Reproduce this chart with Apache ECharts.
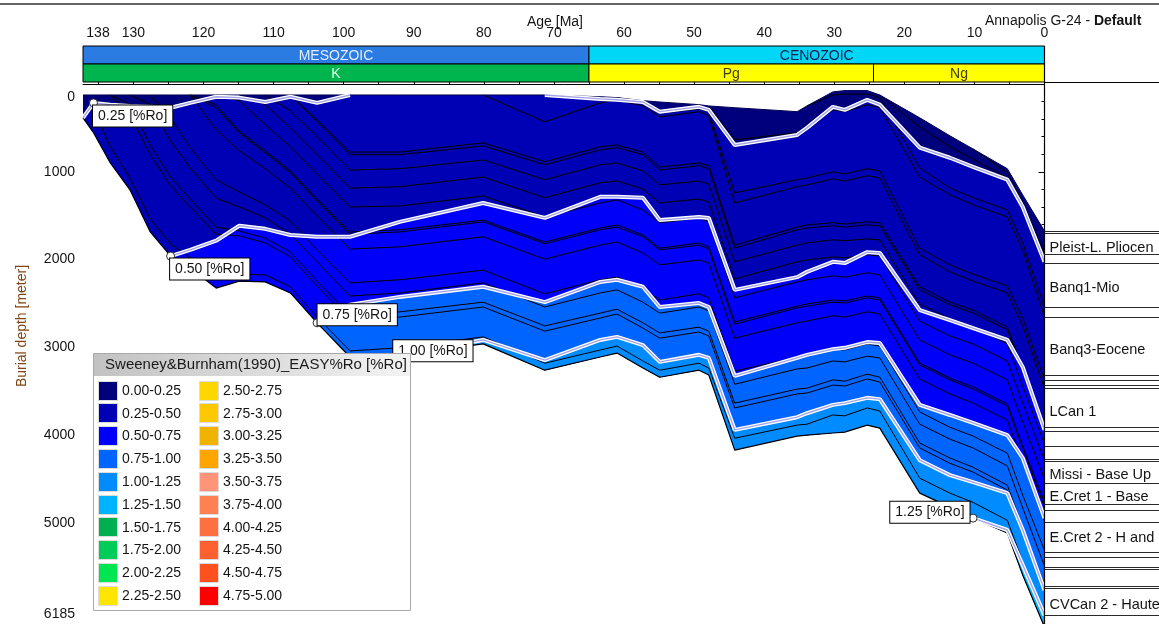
<!DOCTYPE html>
<html>
<head>
<meta charset="utf-8">
<script src="https://cdn.jsdelivr.net/npm/echarts@6/dist/echarts.min.js"></script>
<style>
html,body{margin:0;padding:0;background:#fff;}
#chart{width:1159px;height:624px;}
</style>
</head>
<body>
<div id="chart"></div>
<script>
// ---- Burial history, Annapolis G-24 (ages in Ma, depths in m) ----
const N = null;
const AGE_MAX = 137.2;
const AGE_MAX_LABEL = '138';
const DEPTH_MAX = 6185;

const AGES = [137.2, 135.7, 133.3, 130.5, 127.6, 124.7, 121.9, 118.2, 114.9, 111.2, 107.6, 103.8, 99.1, 92.0,
  80.1, 71.3, 63.4, 61.0, 57.3, 54.9, 49.3, 47.9, 44.2, 35.3, 33.9, 30.2, 28.5, 25.3, 23.5, 17.8, 13.5, 10.2, 5.3, 3.1, 0];

// sediment surface (sea floor) and base of the section
const TOP  = [125,125,125,125,125,125,125,125,125,125,125,125,125,125,125,125,145,155,190,205,235,250,270,315,250,90,75,75,125,385,590,740,965,1265,1675];
const BASE = [385,555,900,1205,1685,1960,2095,2325,2245,2255,2380,2720,3110,3085,2960,3260,3110,3065,3235,3340,3260,3315,4170,4010,4000,3975,3965,3885,3920,4660,4820,4945,5115,5595,6185];

// vitrinite reflectance isolines
const RO_025 = [385,215,235,250,260,270,215,145,155,205,145,215,125,125,125,125,170,180,205,315,260,295,695,580,500,260,295,180,235,725,840,945,1090,1400,2025];
const RO_050 = [N,N,N,N,N,1960,1890,1785,1615,1650,1720,1740,1740,1570,1355,1525,1285,1285,1295,1550,1515,1525,2345,2200,2140,2025,2040,1915,1925,2575,2690,2780,2915,3225,3940];
const RO_075 = [N,N,N,N,N,N,N,N,N,N,N,2720,2515,2425,2310,2485,2255,2230,2310,2540,2495,2540,3325,3120,3085,3020,3005,2940,2950,3655,3770,3860,4000,4260,4945];
const RO_100 = [N,N,N,N,N,N,N,N,N,N,N,N,N,3085,2915,3145,2915,2880,2975,3165,3085,3120,3940,3795,3750,3655,3635,3575,3590,4285,4455,4535,4660,5080,5765];
const RO_125 = [N,N,N,N,N,N,N,N,N,N,N,N,N,N,N,N,N,N,N,N,N,N,N,N,N,N,N,N,N,N,N,4945,5080,5480,6050];

// stratigraphic horizons (null before deposition)
const H_K615 = [N,285,715,1070,1535,1820,1980,2220,2165,2175,2310,2655,3040,3005,2880,3180,3030,2985,3155,3260,3180,3235,4035,3885,3875,3770,3780,3690,3725,4490,4660,4765,4970,5445,6050];
const H_K590 = [N,N,125,350,805,1160,1400,1710,1730,1810,1970,2300,2690,2655,2540,2815,2665,2620,2780,2895,2825,2870,3690,3530,3520,3430,3440,3360,3395,4145,4320,4420,4625,5105,5765];
const H_K587 = [N,N,125,235,695,1060,1310,1630,1675,1755,1915,2245,2630,2595,2485,2755,2610,2565,2720,2835,2770,2815,3635,3475,3465,3370,3385,3305,3340,4090,4260,4365,4570,5050,5710];
const H_K568 = [N,N,N,125,235,650,955,1300,1400,1525,1710,2025,2415,2380,2265,2540,2380,2345,2485,2610,2540,2585,3420,3245,3235,3155,3165,3100,3120,3875,4045,4145,4350,4830,5490];
const H_K555 = [N,N,N,N,125,385,725,1090,1230,1375,1560,1890,2265,2230,2120,2390,2230,2200,2335,2460,2390,2435,3270,3110,3085,3020,3030,2960,2985,3735,3910,4010,4205,4685,5310];
const H_K522 = [N,N,N,N,N,N,125,520,760,965,1185,1500,1880,1855,1740,1995,1835,1800,1925,2060,2005,2040,2895,2720,2700,2640,2655,2595,2620,3360,3530,3635,3830,4305,4980];
const H_K510 = [N,N,N,N,N,N,125,270,555,785,1010,1330,1710,1685,1570,1820,1660,1630,1740,1890,1835,1880,2735,2550,2530,2485,2495,2435,2460,3200,3370,3475,3670,4145,4820];
const H_K504 = [N,N,N,N,N,N,125,235,535,760,990,1310,1685,1660,1550,1800,1640,1605,1720,1870,1810,1855,2710,2530,2505,2460,2470,2415,2435,3180,3350,3450,3645,4125,4765];
const H_K483 = [N,N,N,N,N,N,N,125,190,465,715,1025,1400,1390,1275,1515,1355,1320,1435,1580,1525,1570,2435,2255,2230,2185,2200,2150,2175,2915,3085,3180,3370,3850,4500];
const H_K460 = [N,N,N,N,N,N,N,N,125,235,500,805,1185,1170,1060,1295,1125,1105,1195,1355,1310,1345,2220,2025,2005,1970,1980,1945,1960,2700,2870,2960,3155,3635,4285];
const H_K446 = [N,N,N,N,N,N,N,N,N,125,305,600,980,965,865,1090,920,900,990,1150,1105,1140,2025,1835,1810,1775,1785,1765,1775,2505,2675,2770,2960,3440,4100];
const H_K431 = [N,N,N,N,N,N,N,N,N,N,125,430,805,805,705,920,750,725,805,980,930,965,1870,1660,1640,1615,1630,1605,1615,2345,2515,2610,2800,3280,3940];
const H_K427 = [N,N,N,N,N,N,N,N,N,N,125,410,775,775,670,885,715,695,775,945,900,930,1835,1630,1605,1580,1595,1570,1580,2310,2485,2575,2770,3245,3910];
const H_K388 = [N,N,N,N,N,N,N,N,N,N,N,N,N,N,125,430,215,180,250,375,315,360,1355,1170,1150,1080,1105,1045,1070,1945,2140,2245,2380,2755,3465];
const H_C380 = [N,N,N,N,N,N,N,N,N,N,N,N,N,N,N,N,N,155,215,330,285,315,1240,1090,1070,1000,1025,965,990,1870,2060,2165,2300,2665,3370];
const H_C317 = [N,N,N,N,N,N,N,N,N,N,N,N,N,N,N,N,N,N,N,N,N,250,635,555,475,295,315,235,270,1060,1265,1375,1515,1890,2655];
const H_C307 = [N,N,N,N,N,N,N,N,N,N,N,N,N,N,N,N,N,N,N,N,N,N,N,N,250,125,115,115,155,955,1185,1295,1435,1810,2540];
const H_C263 = [N,N,N,N,N,N,N,N,N,N,N,N,N,N,N,N,N,N,N,N,N,N,N,N,N,N,N,N,125,490,715,855,1070,1410,2040];
const H_C254 = [N,N,N,N,N,N,N,N,N,N,N,N,N,N,N,N,N,N,N,N,N,N,N,N,N,N,N,N,N,N,N,740,1010,1345,1935];
const HORIZONS = [H_K615,H_K590,H_K587,H_K568,H_K555,H_K522,H_K510,H_K504,H_K483,H_K460,H_K446,H_K431,H_K427,H_K388,H_C380,H_C317,H_C307,H_C263,H_C254];

// EASY%Ro classes
const RO_CLASSES = ['0.00-0.25','0.25-0.50','0.50-0.75','0.75-1.00','1.00-1.25','1.25-1.50','1.50-1.75','1.75-2.00','2.00-2.25','2.25-2.50',
  '2.50-2.75','2.75-3.00','3.00-3.25','3.25-3.50','3.50-3.75','3.75-4.00','4.00-4.25','4.25-4.50','4.50-4.75','4.75-5.00'];
const RO_COLORS = ['#00007c','#0000b4','#0000fa','#0064ff','#008cff','#00b4ff','#00b050','#00cc5a','#00e650','#ffe600',
  '#ffd700','#ffc800','#f0b400','#ffa500','#ff9478','#ff8050','#ff7040','#ff6030','#ff5020','#ff0000'];
const ISO_LINES = [RO_025, RO_050, RO_075, RO_100, RO_125];
const ISO_LABELS = ['0.25 [%Ro]','0.50 [%Ro]','0.75 [%Ro]','1.00 [%Ro]','1.25 [%Ro]'];
const ISO_LABEL_NODES = [1, 5, 11, 13, 31];

// time scale bars
const ERAS = [['MESOZOIC', AGE_MAX, 65.0], ['CENOZOIC', 65.0, 0]];
const PERIODS = [['K', AGE_MAX, 65.0], ['Pg', 65.0, 24.4], ['Ng', 24.4, 0]];

// present-day formation column
const COLUMN_LINES = [1675,1695,1935,2040,2540,2655,3315,3370,3430,3465,3910,3955,4125,4275,4295,4545,4785,4855,4990,5335,5390,5505,5525,5720,5745,6050];
const COLUMN_NAMES = ['Pleist-L. Pliocen','Banq1-Mio','Banq3-Eocene','LCan 1','Missi - Base Up','E.Cret 1 - Base','E.Cret 2 - H and','CVCan 2 - Haute'];
const COLUMN_NAME_DEPTHS = [1865, 2325, 3030, 3735, 4455, 4705, 5175, 5935];

// axis ticks and labels
const X_LABEL_VALUES = [0,10,20,30,40,50,60,70,80,90,100,110,120,130,AGE_MAX];
const X_TICKS = [0,5,10,15,20,25,30,35,40,45,50,55,60,65,70,75,80,85,90,95,100,105,110,115,120,125,130,135];
const Y_LABEL_VALUES = [0,1000,2000,3000,4000,5000,DEPTH_MAX];

// ---------------------------------------------------------------
const FONT = '"Liberation Sans", Arial, sans-serif';
const TXT = '#141414';

function pairs(arr) {
  const out = [];
  for (let i = 0; i < AGES.length; i++) if (arr[i] != null) out.push([AGES[i], arr[i]]);
  return out;
}
// an isoline is only drawn where it lies below the sea floor
function isoPairs(arr) {
  const below = i => i >= 0 && i < AGES.length && arr[i] != null && arr[i] > TOP[i];
  const out = [];
  for (let i = 0; i < AGES.length; i++) {
    if (arr[i] == null) continue;
    out.push(below(i) || below(i - 1) || below(i + 1) ? [AGES[i], arr[i]] : [AGES[i], '-']);
  }
  return out;
}
function zonePoints(upper, api) {
  const up = [], low = [];
  for (let i = 0; i < AGES.length; i++) {
    if (upper[i] == null) continue;
    up.push(api.coord([AGES[i], upper[i]]));
    low.push(api.coord([AGES[i], BASE[i]]));
  }
  return up.concat(low.reverse());
}

const series = [];

// maturity zone fills, painted shallow to deep
[TOP].concat(ISO_LINES).forEach((upper, k) => {
  series.push({
    type: 'custom', silent: true, z: 1, data: [[0, 0]],
    renderItem: (p, api) => ({ type: 'polygon', shape: { points: zonePoints(upper, api) }, style: { fill: RO_COLORS[k] } })
  });
});

// horizons
HORIZONS.forEach(h => {
  series.push({ type: 'line', silent: true, z: 2, symbol: 'none', data: pairs(h),
    lineStyle: { color: '#000', width: 1 } });
});
// section outline
series.push({ type: 'line', silent: true, z: 2, symbol: 'none', data: pairs(BASE), lineStyle: { color: '#000', width: 1.2 } });
series.push({ type: 'line', silent: true, z: 2, symbol: 'none', data: pairs(TOP), lineStyle: { color: '#000050', width: 1 } });

// isolines: white casing with a pale centre
ISO_LINES.forEach(iso => {
  const d = isoPairs(iso);
  series.push({ type: 'line', silent: true, z: 3, symbol: 'none', connectNulls: false, data: d, lineStyle: { color: '#ffffff', width: 4 } });
  series.push({ type: 'line', silent: true, z: 3, symbol: 'none', connectNulls: false, data: d, lineStyle: { color: '#a4a4ec', width: 1.4 } });
});

// isoline tags
const TAG_LAYOUT = [
  { position: [4, 7], align: 'left', verticalAlign: 'top' },
  { position: [4, 7], align: 'left', verticalAlign: 'top' },
  { position: [5, 7], align: 'left', verticalAlign: 'bottom' },
  { position: [-2, 11], align: 'left', verticalAlign: 'bottom' },
  { position: [1, 9], align: 'right', verticalAlign: 'bottom' }
];
series.push({
  type: 'scatter', silent: true, z: 5, symbol: 'circle', symbolSize: 8,
  itemStyle: { color: '#ffffff', borderColor: '#303030', borderWidth: 1, opacity: 1 },
  data: ISO_LINES.map((iso, k) => ({
    value: [AGES[ISO_LABEL_NODES[k]], iso[ISO_LABEL_NODES[k]]],
    label: Object.assign({
      show: true, formatter: ISO_LABELS[k], fontSize: 14, fontFamily: FONT, color: TXT, opacity: 1,
      backgroundColor: '#ffffff', borderColor: '#000', borderWidth: 1, padding: [4, 5, 3, 5]
    }, TAG_LAYOUT[k])
  }))
});

// era / period bars above the plot
const BAR_ROWS = { eraTop: 46, eraBot: 64, perTop: 64, perBot: 82 };
const BAR_STYLE = {
  MESOZOIC: { fill: '#2a7ce2', text: '#e4ecff' }, CENOZOIC: { fill: '#00d6f6', text: '#1c1c48' },
  K: { fill: '#00b44e', text: '#e6ffe6' }, Pg: { fill: '#ffff00', text: '#404000' }, Ng: { fill: '#ffff00', text: '#404000' }
};
function barItem(api, item, y0, y1) {
  const xa = api.coord([item[1], 0])[0], xb = api.coord([item[2], 0])[0];
  const st = BAR_STYLE[item[0]];
  return [
    { type: 'rect', shape: { x: xa, y: y0, width: xb - xa, height: y1 - y0 }, style: { fill: st.fill, stroke: '#000', lineWidth: 1 } },
    { type: 'text', style: { text: item[0], x: (xa + xb) / 2, y: (y0 + y1) / 2 + 1, align: 'center', verticalAlign: 'middle',
      fill: st.text, font: '14px ' + FONT } }
  ];
}
series.push({
  type: 'custom', silent: true, z: 6, clip: false, data: [[0, 0]],
  renderItem: (p, api) => {
    let children = [];
    ERAS.forEach(e => { children = children.concat(barItem(api, e, BAR_ROWS.eraTop, BAR_ROWS.eraBot)); });
    PERIODS.forEach(e => { children = children.concat(barItem(api, e, BAR_ROWS.perTop, BAR_ROWS.perBot)); });
    return { type: 'group', children };
  }
});

// present-day formation column on the right
series.push({
  type: 'custom', silent: true, z: 6, clip: false, data: [[0, 0]],
  renderItem: (p, api) => {
    const x0 = api.coord([0, 0])[0];
    const W = api.getWidth();
    const yBot = api.coord([0, DEPTH_MAX])[1];
    const ch = [];
    ch.push({ type: 'line', shape: { x1: x0, y1: BAR_ROWS.eraTop, x2: x0, y2: yBot }, style: { stroke: '#000', lineWidth: 1.2 } });
    ch.push({ type: 'line', shape: { x1: x0, y1: BAR_ROWS.perBot + 0.5, x2: W, y2: BAR_ROWS.perBot + 0.5 }, style: { stroke: '#000', lineWidth: 1 } });
    COLUMN_LINES.forEach(d => {
      const y = Math.round(api.coord([0, d])[1]) + 0.5;
      ch.push({ type: 'line', shape: { x1: x0, y1: y, x2: W, y2: y }, style: { stroke: '#2a2a2a', lineWidth: 1 } });
    });
    COLUMN_NAMES.forEach((name, i) => {
      ch.push({ type: 'text', style: { text: name, x: x0 + 5, y: api.coord([0, COLUMN_NAME_DEPTHS[i]])[1], verticalAlign: 'middle',
        fill: TXT, font: '14.5px ' + FONT } });
    });
    return { type: 'group', children: ch };
  }
});

// EASY%Ro legend panel
const LEG = { x: 93, y: 353, w: 317, h: 257, head: 22, row0: 390, step: 22.8, cols: [98, 199], sw: 19 };
const legend = [
  { type: 'rect', z: 100, shape: { x: LEG.x + 0.5, y: LEG.y + 0.5, width: LEG.w, height: LEG.h },
    style: { fill: '#ffffff', stroke: '#a8a8a8', lineWidth: 1 } },
  { type: 'rect', z: 101, shape: { x: LEG.x + 1, y: LEG.y + 1, width: LEG.w - 1, height: LEG.head },
    style: { fill: new echarts.graphic.LinearGradient(0, 0, 1, 0, [{ offset: 0, color: '#c2c2c2' }, { offset: 1, color: '#f3f3f3' }]) } },
  { type: 'text', z: 102, style: { text: 'Sweeney&Burnham(1990)_EASY%Ro [%Ro]', x: 256, y: LEG.y + 12, align: 'center', verticalAlign: 'middle',
    fill: '#1a1a1a', font: '15px ' + FONT } }
];
RO_CLASSES.forEach((name, i) => {
  const col = Math.floor(i / 10), row = i % 10;
  const cy = LEG.row0 + row * LEG.step;
  const cx = LEG.cols[col];
  legend.push({ type: 'rect', z: 102, shape: { x: cx + 0.5, y: Math.round(cy - LEG.sw / 2) + 0.5, width: LEG.sw, height: LEG.sw },
    style: { fill: RO_COLORS[i], stroke: '#dcdcdc', lineWidth: 1 } });
  legend.push({ type: 'text', z: 102, style: { text: name, x: cx + 24, y: cy + 1, verticalAlign: 'middle', fill: TXT, font: '14px ' + FONT } });
});

const graphics = legend.concat([
  { type: 'line', z: 100, shape: { x1: 0, y1: 4, x2: 1159, y2: 4 }, style: { stroke: '#303030', lineWidth: 1.5 } },
  { type: 'text', z: 100, style: { text: 'Age [Ma]', x: 555, y: 22, align: 'center', verticalAlign: 'middle', fill: TXT, font: '14px ' + FONT } },
  { type: 'text', z: 100, style: { text: '{n|Annapolis G-24 - }{b|Default}', x: 985, y: 21, verticalAlign: 'middle',
    rich: { n: { fontSize: 14, fontFamily: FONT, fill: TXT }, b: { fontSize: 14, fontFamily: FONT, fontWeight: 'bold', fill: TXT } } } },
  { type: 'text', z: 100, x: 22, y: 326, rotation: Math.PI / 2,
    style: { text: 'Burial depth [meter]', x: 0, y: 0, align: 'center', verticalAlign: 'middle', fill: '#7f4515', font: '14px ' + FONT } }
]);

const option = {
  animation: false,
  backgroundColor: '#ffffff',
  grid: { left: 83, right: 114.5, top: 84, bottom: -3, containLabel: false, outerBoundsMode: 'none' },
  xAxis: {
    type: 'value', inverse: true, min: 0, max: AGE_MAX, position: 'top', offset: 38, interval: 5,
    axisLine: { show: true, lineStyle: { color: '#000', width: 1 } },
    axisTick: { show: true, length: 4, customValues: X_TICKS, lineStyle: { color: '#000' } },
    axisLabel: {
      show: true, customValues: X_LABEL_VALUES, margin: 6, fontSize: 14, fontFamily: FONT, color: TXT,
      formatter: v => (Math.abs(v - AGE_MAX) < 1e-6 ? '{m|' + AGE_MAX_LABEL + '}' : String(v)),
      rich: { m: { fontSize: 14, fontFamily: FONT, color: TXT, padding: [0, 0, 0, 30] } }
    },
    splitLine: { show: false }
  },
  yAxis: {
    type: 'value', inverse: true, min: 0, max: DEPTH_MAX, interval: 1000,
    axisLine: { show: true, lineStyle: { color: '#000', width: 1 } },
    axisTick: { show: true, length: 6, lineStyle: { color: '#000' } },
    minorTick: { show: true, splitNumber: 5, length: 3, lineStyle: { color: '#000' } },
    axisLabel: {
      show: true, customValues: Y_LABEL_VALUES, margin: 8, fontSize: 14, fontFamily: FONT, color: TXT,
      formatter: v => (v === 0 ? '{t|0}' : v === DEPTH_MAX ? '{b|' + DEPTH_MAX + '}' : String(v)),
      rich: {
        t: { fontSize: 14, fontFamily: FONT, color: TXT, padding: [26, 0, 0, 0] },
        b: { fontSize: 14, fontFamily: FONT, color: TXT, padding: [0, 0, 26, 0] }
      }
    },
    splitLine: { show: false }
  },
  graphic: { elements: graphics },
  series: series
};

const chart = echarts.init(document.getElementById('chart'));
chart.setOption(option);
</script>
</body>
</html>
